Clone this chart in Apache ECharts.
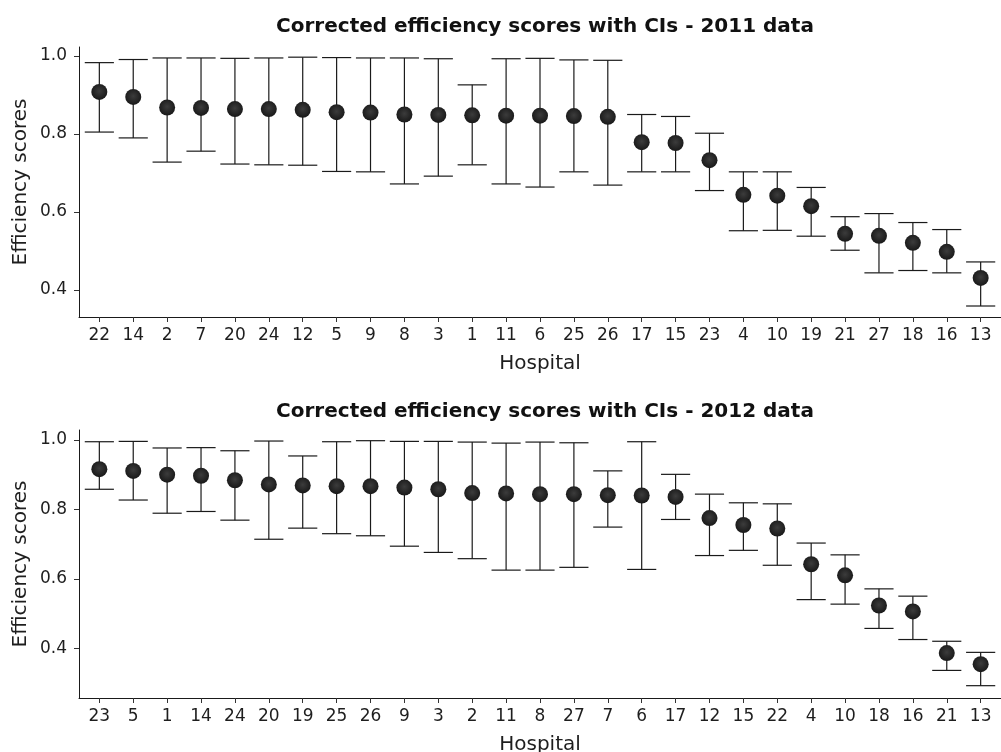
<!DOCTYPE html>
<html>
<head>
<meta charset="utf-8">
<title>Corrected efficiency scores with CIs</title>
<script src="https://cdn.jsdelivr.net/npm/echarts@6/dist/echarts.min.js"></script>
<style>
  html, body { margin: 0; padding: 0; background: #ffffff; }
  #chart { width: 1001px; height: 752px; }
</style>
</head>
<body>
<div id="chart"></div>
<script>
// 2011: hospitals ordered by corrected efficiency score, with CI bounds
const hospitals2011 = ['22','14','2','7','20','24','12','5','9','8','3','1','11','6','25','26','17','15','23','4','10','19','21','27','18','16','13'];
const eff2011   = [0.908,0.895,0.868,0.867,0.864,0.864,0.862,0.856,0.855,0.850,0.849,0.848,0.847,0.847,0.846,0.844,0.779,0.777,0.733,0.644,0.642,0.615,0.544,0.539,0.521,0.498,0.431];
const lower2011 = [0.805,0.790,0.728,0.756,0.723,0.721,0.720,0.704,0.703,0.672,0.692,0.721,0.672,0.664,0.703,0.669,0.703,0.703,0.655,0.552,0.553,0.538,0.502,0.444,0.450,0.444,0.359];
const upper2011 = [0.983,0.991,0.995,0.995,0.994,0.995,0.997,0.996,0.995,0.995,0.993,0.926,0.993,0.994,0.990,0.989,0.850,0.845,0.802,0.703,0.703,0.663,0.588,0.596,0.573,0.555,0.472];

// 2012
const hospitals2012 = ['23','5','1','14','24','20','19','25','26','9','3','2','11','8','27','7','6','17','12','15','22','4','10','18','16','21','13'];
const eff2012   = [0.916,0.911,0.900,0.897,0.884,0.872,0.869,0.867,0.867,0.863,0.858,0.847,0.846,0.844,0.844,0.841,0.840,0.836,0.775,0.755,0.745,0.642,0.610,0.523,0.506,0.386,0.354];
const lower2012 = [0.858,0.827,0.789,0.794,0.769,0.714,0.746,0.730,0.724,0.694,0.676,0.658,0.625,0.625,0.633,0.749,0.627,0.771,0.667,0.682,0.639,0.540,0.527,0.457,0.425,0.336,0.292];
const upper2012 = [0.995,0.996,0.977,0.978,0.969,0.997,0.954,0.995,0.998,0.996,0.996,0.994,0.991,0.994,0.992,0.911,0.995,0.901,0.844,0.819,0.816,0.703,0.669,0.571,0.550,0.420,0.388];

const yTicks = [0.4, 0.6, 0.8, 1.0];

const FONT = 'DejaVu Sans';
const TEXT = '#1e1e1e';
const INK = '#1a1a1a';

const chart = echarts.init(document.getElementById('chart'), null, { renderer: 'canvas' });

function xAxisFor(gridIndex, labels) {
  const idx = labels.map((_, i) => i);
  return {
    type: 'value', gridIndex: gridIndex,
    min: -0.6, max: labels.length - 0.4,
    name: 'Hospital', nameLocation: 'middle', nameGap: 37,
    nameTextStyle: { fontFamily: FONT, fontSize: 20, color: TEXT },
    splitLine: { show: false },
    axisLine: { show: true, onZero: false, lineStyle: { color: INK, width: 1 } },
    axisTick: { show: true, length: 5, customValues: idx, lineStyle: { color: '#333' } },
    axisLabel: {
      customValues: idx, margin: 10,
      fontFamily: FONT, fontSize: 17, color: TEXT,
      formatter: v => labels[Math.round(v)]
    }
  };
}

function yAxisFor(gridIndex, min, max) {
  return {
    type: 'value', gridIndex: gridIndex, min: min, max: max,
    name: 'Efficiency scores', nameLocation: 'middle', nameGap: 48, nameRotate: 90,
    nameMoveOverlap: false,
    nameTextStyle: { fontFamily: FONT, fontSize: 20, color: TEXT },
    splitLine: { show: false },
    axisLine: { show: true, onZero: false, lineStyle: { color: INK, width: 1 } },
    axisTick: { show: true, length: 5, customValues: yTicks, lineStyle: { color: '#333' } },
    axisLabel: {
      customValues: yTicks, margin: 12,
      fontFamily: FONT, fontSize: 17, color: TEXT,
      formatter: v => v.toFixed(1)
    }
  };
}

// vertical CI segment with horizontal caps
function errorBarSeries(axisIndex, lower, upper) {
  return {
    type: 'custom', xAxisIndex: axisIndex, yAxisIndex: axisIndex, z: 2,
    data: lower.map((lo, i) => [i, lo, upper[i]]),
    renderItem: function (params, api) {
      const i = api.value(0);
      const lo = api.coord([i, api.value(1)]);
      const hi = api.coord([i, api.value(2)]);
      const half = api.size([1, 0])[0] * 0.43;
      const style = { stroke: INK, lineWidth: 1.2 };
      return {
        type: 'group',
        children: [
          { type: 'line', shape: { x1: lo[0], y1: lo[1], x2: hi[0], y2: hi[1] }, style: style },
          { type: 'line', shape: { x1: lo[0] - half, y1: lo[1], x2: lo[0] + half, y2: lo[1] }, style: style },
          { type: 'line', shape: { x1: hi[0] - half, y1: hi[1], x2: hi[0] + half, y2: hi[1] }, style: style }
        ]
      };
    }
  };
}

function pointSeries(axisIndex, values) {
  return {
    type: 'scatter', xAxisIndex: axisIndex, yAxisIndex: axisIndex, z: 3,
    symbol: 'circle', symbolSize: 16,
    itemStyle: {
      color: {
        type: 'radial', x: 0.5, y: 0.45, r: 0.6,
        colorStops: [ { offset: 0, color: '#3c3c3c' }, { offset: 1, color: '#151515' } ]
      },
      opacity: 1
    },
    data: values.map((v, i) => [i, v])
  };
}

const titleStyle = { fontFamily: FONT, fontSize: 20, fontWeight: 'bold', color: '#111' };

chart.setOption({
  animation: false,
  backgroundColor: '#ffffff',
  title: [
    { text: 'Corrected efficiency scores with CIs - 2011 data', left: 540, top: 12, textAlign: 'center', textStyle: titleStyle },
    { text: 'Corrected efficiency scores with CIs - 2012 data', left: 540, top: 397, textAlign: 'center', textStyle: titleStyle }
  ],
  grid: [
    { left: 79, right: 0, top: 47, height: 270, outerBoundsMode: 'none' },
    { left: 79, right: 0, top: 430, height: 268, outerBoundsMode: 'none' }
  ],
  xAxis: [ xAxisFor(0, hospitals2011), xAxisFor(1, hospitals2012) ],
  yAxis: [ yAxisFor(0, 0.3308, 1.0231), yAxisFor(1, 0.2565, 1.0288) ],
  series: [
    errorBarSeries(0, lower2011, upper2011),
    pointSeries(0, eff2011),
    errorBarSeries(1, lower2012, upper2012),
    pointSeries(1, eff2012)
  ]
});
</script>
</body>
</html>
